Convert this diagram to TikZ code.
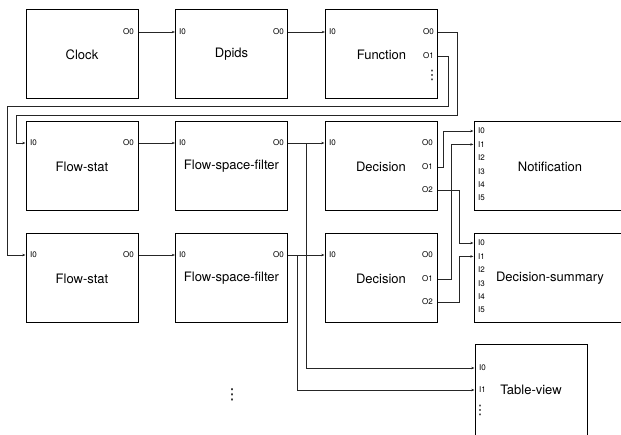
\documentclass[tikz,border=0pt]{standalone}
\usepackage{fontspec}
\setmainfont{TeX Gyre Heros}
\newfontfamily\dotsfont{DejaVu Sans}
\usetikzlibrary{arrows.meta}

\begin{document}
\begin{tikzpicture}[x=1pt,y=-1pt,
  block/.style={draw,fill=white,line width=1pt,minimum width=112pt,minimum height=89pt,inner sep=0pt,font=\fontsize{13}{15}\selectfont},
  port/.style={inner sep=0pt,font=\fontsize{8}{9}\selectfont},
  wire/.style={line width=0.6pt,black!85,-{Stealth[length=3.2pt,width=2.4pt]}}]
\useasboundingbox (0,0) rectangle (621,435);
\clip (0,0) rectangle (621,435);

% first row
\node[block] (clock) at (82,54.5) {Clock};
\node[block] (dpids) at (231.5,54.5) {Dpids};
\node[block] (fn) at (381.5,54.5) {Function};
\node[port,anchor=east] (clock-o0) at (134,32) {O0};
\node[port,anchor=west] (dpids-i0) at (179,32) {I0};
\node[port,anchor=east] (dpids-o0) at (284,32) {O0};
\node[port,anchor=west] (fn-i0) at (329,32) {I0};
\node[port,anchor=east] (fn-o0) at (434,32) {O0};
\node[port,anchor=east] (fn-o1) at (434,56) {O1};
\node[port,font=\fontsize{13}{14}\dotsfont] (fn-dots) at (432,75) {⋮};

% second row
\node[block] (fs1) at (82,166.5) {Flow-stat};
\node[block] (ff1) at (231.5,166.5) {Flow-space-filter};
\node[block] (dec1) at (381,166.5) {Decision};
\node[block,minimum width=152pt] (note) at (550,166.5) {Notification};
\node[port,anchor=west] (fs1-i0) at (30,143) {I0};
\node[port,anchor=east] (fs1-o0) at (134,143) {O0};
\node[port,anchor=west] (ff1-i0) at (179,143) {I0};
\node[port,anchor=east] (ff1-o0) at (284,143) {O0};
\node[port,anchor=west] (dec1-i0) at (329,143) {I0};
\node[port,anchor=east] (dec1-o0) at (433,143) {O0};
\node[port,anchor=east] (dec1-o1) at (433,167) {O1};
\node[port,anchor=east] (dec1-o2) at (433,190) {O2};
\foreach \i [evaluate=\i as \y using 131+13.4*\i] in {0,...,5}
  \node[port,anchor=west] (note-i\i) at (478,\y) {I\i};

% third row
\node[block] (fs2) at (82,278.5) {Flow-stat};
\node[block] (ff2) at (231.5,278.5) {Flow-space-filter};
\node[block] (dec2) at (381,278.5) {Decision};
\node[block,minimum width=152pt] (sum) at (550,278.5) {Decision-summary};
\node[port,anchor=west] (fs2-i0) at (30,255) {I0};
\node[port,anchor=east] (fs2-o0) at (134,255) {O0};
\node[port,anchor=west] (ff2-i0) at (179,255) {I0};
\node[port,anchor=east] (ff2-o0) at (284,255) {O0};
\node[port,anchor=west] (dec2-i0) at (329,255) {I0};
\node[port,anchor=east] (dec2-o0) at (433,255) {O0};
\node[port,anchor=east] (dec2-o1) at (433,279) {O1};
\node[port,anchor=east] (dec2-o2) at (433,302) {O2};
\foreach \i [evaluate=\i as \y using 243+13.4*\i] in {0,...,5}
  \node[port,anchor=west] (sum-i\i) at (478,\y) {I\i};

% table view
\node[block,minimum height=90pt] (tv) at (531,390) {Table-view};
\node[port,anchor=west] (tv-i0) at (479,368) {I0};
\node[port,anchor=west] (tv-i1) at (479,390) {I1};
\node[port,font=\fontsize{13}{14}\dotsfont] (tv-dots) at (480,410) {⋮};
\node[inner sep=0pt,font=\fontsize{15}{16}\dotsfont] (more) at (232,395) {⋮};

% connections
\draw[wire] (clock-o0 -| clock.east) -- (dpids-i0 -| dpids.west);
\draw[wire] (dpids-o0 -| dpids.east) -- (fn-i0 -| fn.west);
\draw[wire] (fn-o0 -| fn.east) -- ++(19,0) |- (16,115) |- (fs1-i0 -| fs1.west);
\draw[wire] (fn-o1 -| fn.east) -- ++(10,0) |- (7,106) |- (fs2-i0 -| fs2.west);
\draw[wire] (fs1-o0 -| fs1.east) -- (ff1-i0 -| ff1.west);
\draw[wire] (ff1-o0 -| ff1.east) -- (dec1-i0 -| dec1.west);
\draw[wire] (ff1-o0 -| ff1.east) -- ++(18,0) |- (tv-i0 -| tv.west);
\draw[wire] (fs2-o0 -| fs2.east) -- (ff2-i0 -| ff2.west);
\draw[wire] (ff2-o0 -| ff2.east) -- (dec2-i0 -| dec2.west);
\draw[wire] (ff2-o0 -| ff2.east) -- ++(9,0) |- (tv-i1 -| tv.west);
\draw[wire] (dec1-o1 -| dec1.east) -- ++(6,0) |- (note-i0 -| note.west);
\draw[wire] (dec1-o2 -| dec1.east) -- ++(22,0) |- (sum-i0 -| sum.west);
\draw[wire] (dec2-o1 -| dec2.east) -- ++(14,0) |- (note-i1 -| note.west);
\draw[wire] (dec2-o2 -| dec2.east) -- ++(22,0) |- (sum-i1 -| sum.west);
\end{tikzpicture}
\end{document}
